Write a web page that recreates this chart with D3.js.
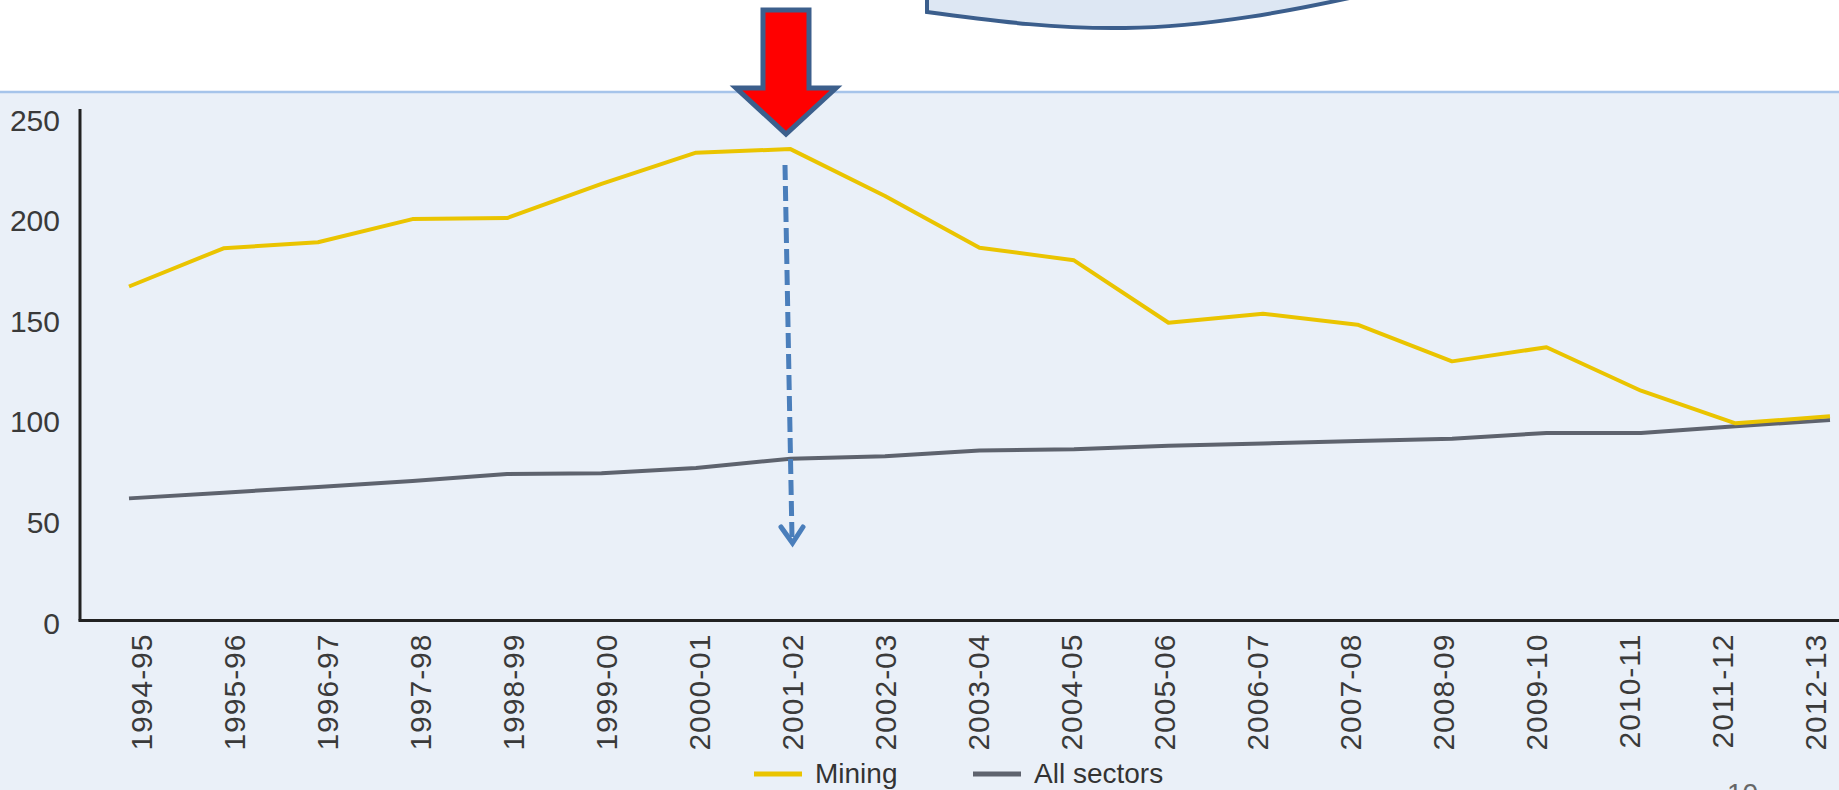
<!DOCTYPE html>
<html>
<head>
<meta charset="utf-8">
<script src="https://cdn.jsdelivr.net/npm/d3@7"></script>
<style>
  html, body { margin: 0; padding: 0; background: #fff; }
  svg { display: block; }
</style>
</head>
<body>
<div id="chart"></div>
<script>
// Data
const years = ['1994-95', '1995-96', '1996-97', '1997-98', '1998-99', '1999-00', '2000-01', '2001-02', '2002-03', '2003-04',
  '2004-05', '2005-06', '2006-07', '2007-08', '2008-09', '2009-10', '2010-11', '2011-12', '2012-13'];
const mining = [166, 185, 188, 199.5, 200, 217, 232.5, 234.3, 211, 185.3, 179, 148, 152.5, 147, 128.8, 135.8, 114.2, 98, 101.5];
const allSectors = [60.7, 63.5, 66.4, 69.3, 72.8, 73.2, 75.8, 80.4, 81.6, 84.5, 85.1, 86.8, 88, 89.2, 90.3, 93.2, 93.2, 96.6, 99.6];
const yTicks = [0, 50, 100, 150, 200, 250];
const seriesNames = ['Mining', 'All sectors'];
const seriesColors = ['#eac400', '#5e636e'];

const W = 1839, H = 790;
const svg = d3.select('#chart').append('svg')
  .attr('width', W)
  .attr('height', H)
  .attr('viewBox', [0, 0, W, H]);

// slide panel behind the chart
svg.append('rect').attr('x', 0).attr('y', 92).attr('width', W).attr('height', H - 92).attr('fill', '#eaf0f8');
svg.append('line').attr('x1', 0).attr('x2', W).attr('y1', 92).attr('y2', 92)
  .attr('stroke', '#a6c4ea').attr('stroke-width', 2.5);

// callout bubble peeking in at the top
svg.append('path')
  .attr('d', 'M927,-10 L927,12 C1000,22 1060,29 1125,28 C1205,27 1290,12 1385,-10')
  .attr('fill', '#dde7f3')
  .attr('stroke', '#3b5e8c')
  .attr('stroke-width', 4);

// scales
const x = d3.scalePoint().domain(years).range([129, 1830]);
const xl = d3.scalePoint().domain(years).range([141, 1815]); // tick labels sit a bit off the points
const y = d3.scaleLinear().domain([0, 250]).range([620.5, 117.5]);

const font = '"Liberation Sans", Arial, sans-serif';

// y axis
const yAxis = svg.append('g')
  .attr('transform', 'translate(80,0)')
  .call(d3.axisLeft(y).tickValues(yTicks).tickSize(0).tickPadding(20));
yAxis.select('.domain').remove();
yAxis.selectAll('text')
  .attr('dy', '0.42em')
  .attr('fill', '#3a3a3a')
  .attr('font-size', '30px')
  .attr('font-family', font);
svg.append('line')
  .attr('x1', 80).attr('x2', 80)
  .attr('y1', 109).attr('y2', y(0))
  .attr('stroke', '#222').attr('stroke-width', 3);

// x axis
const xAxis = svg.append('g')
  .attr('transform', `translate(0,${y(0)})`)
  .call(d3.axisBottom(xl).tickSize(0));
xAxis.select('.domain').remove();
xAxis.selectAll('text')
  .attr('transform', 'rotate(-90)')
  .attr('x', -13)
  .attr('y', 0)
  .attr('dy', '0.36em')
  .attr('text-anchor', 'end')
  .attr('fill', '#3a3a3a')
  .attr('font-size', '30px')
  .attr('letter-spacing', '1px')
  .attr('font-family', font);
svg.append('line')
  .attr('x1', 78.5).attr('x2', W)
  .attr('y1', y(0)).attr('y2', y(0))
  .attr('stroke', '#222').attr('stroke-width', 3);

// lines
const line = d3.line().x((d, i) => x(years[i])).y(d => y(d));
[allSectors, mining].forEach((vals, k) => {
  svg.append('path')
    .datum(vals)
    .attr('d', line)
    .attr('fill', 'none')
    .attr('stroke', k === 0 ? seriesColors[1] : seriesColors[0])
    .attr('stroke-width', 4)
    .attr('stroke-linejoin', 'round');
});

// red arrow pointing at the peak
svg.append('path')
  .attr('d', 'M763,10 L809,10 L809,88 L836,88 L786,134 L736,88 L763,88 Z')
  .attr('fill', '#ff0000')
  .attr('stroke', '#3c5f8c')
  .attr('stroke-width', 5)
  .attr('stroke-linejoin', 'miter');

// dashed blue arrow
svg.append('line')
  .attr('x1', 785).attr('y1', 165)
  .attr('x2', 792).attr('y2', 538)
  .attr('stroke', '#4a7ebb')
  .attr('stroke-width', 5)
  .attr('stroke-dasharray', '15,6');
svg.append('polyline')
  .attr('points', '781,527 792.5,543 803,527')
  .attr('fill', 'none')
  .attr('stroke', '#4a7ebb')
  .attr('stroke-width', 5)
  .attr('stroke-linecap', 'round')
  .attr('stroke-linejoin', 'miter');

// legend
const legend = svg.append('g');
const legX = [754, 973];
seriesNames.forEach((name, i) => {
  legend.append('line')
    .attr('x1', legX[i]).attr('x2', legX[i] + 48)
    .attr('y1', 774).attr('y2', 774)
    .attr('stroke', seriesColors[i])
    .attr('stroke-width', 5);
  legend.append('text')
    .attr('x', legX[i] + 61)
    .attr('y', 783)
    .text(name)
    .attr('fill', '#333')
    .attr('font-size', '28px')
    .attr('font-family', font);
});

// page number, cut off by the bottom edge as in the slide
svg.append('text')
  .attr('x', 1727).attr('y', 803)
  .text('10')
  .attr('fill', '#666')
  .attr('font-size', '28px')
  .attr('font-family', font);
</script>
</body>
</html>
